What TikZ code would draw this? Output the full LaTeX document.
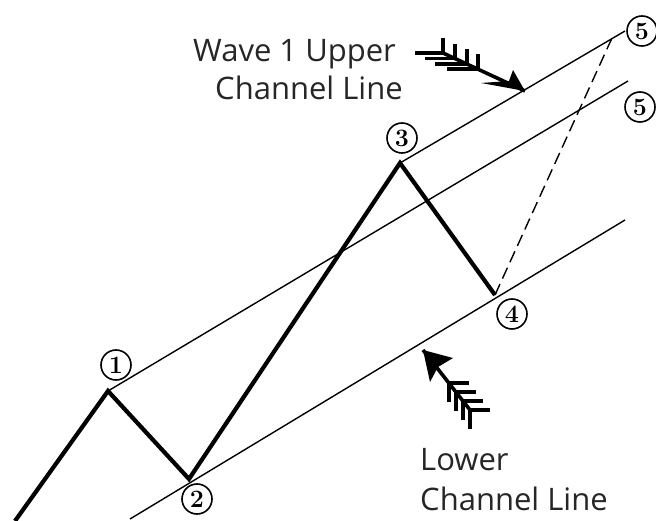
\documentclass[tikz,border=0pt]{standalone}
\usepackage{fontspec}
\newfontfamily\handfont{Open Sans}
\begin{document}
\begin{tikzpicture}[x=1pt,y=-1pt,
  wave/.style={line width=4.2pt, line join=miter, line cap=butt},
  chan/.style={line width=1.4pt},
  lbl/.style={circle, draw, line width=1.6pt, minimum size=30pt, inner sep=0pt, font=\fontsize{25}{25}\selectfont\bfseries},
  txt/.style={font=\handfont\fontsize{31}{31}\selectfont, anchor=base west, inner sep=0pt, text=black!85},
  fletch/.style={line width=3.4pt},
  shaft/.style={line width=3.6pt}
]
\useasboundingbox (0,0) rectangle (656,521);
% wave points
\coordinate (p0) at (15,521);
\coordinate (p1) at (108,391);
\coordinate (p2) at (189,479);
\coordinate (p3) at (400,163);
\coordinate (p4) at (495,295);
% channel line ends
\coordinate (u5) at (625,31);
\coordinate (m5) at (628,81);
\coordinate (lo0) at (130,519);
\coordinate (lo1) at (625,220);
\coordinate (d5) at (612,38);

% channel lines
\draw[chan] (p3) -- (u5);
\draw[chan] (p1) -- (m5);
\draw[chan] (lo0) -- (lo1);
\draw[chan, dash pattern=on 12pt off 6pt] (p4) -- (d5);

% wave
\draw[wave] (p0) -- (p1) -- (p2) -- (p3) -- (p4);

% circled labels
\node[lbl] (n1) at (116,365) {1};
\node[lbl] (n2) at (197,499) {2};
\node[lbl] (n3) at (402,138) {3};
\node[lbl] (n4) at (512,314) {4};
\node[lbl] (n5a) at (642,31) {5};
\node[lbl] (n5b) at (640,107) {5};

% texts
\node[txt] (t1) at (193,62) {Wave 1 Upper};
\node[txt] (t2) at (215,100) {Channel Line};
\node[txt] (t3) at (420,470) {Lower};
\node[txt] (t4) at (420,510) {Channel Line};

% upper fletched arrow
\coordinate (ua0) at (443,53);
\coordinate (ua1) at (455,58.6);
\coordinate (ua2) at (467,64.1);
\coordinate (ua3) at (478,69.2);
\coordinate (uat) at (525,91);
\draw[shaft] (ua0) -- (uat);
\foreach \c/\l in {ua0/28,ua1/30,ua2/32,ua3/31}{
  \draw[fletch] (\c) -- ++(0,-15);
  \draw[fletch] (\c) -- ++(-\l,0);
}
\fill (uat) -- (513,70) -- (509,81) -- (481,83) -- cycle;

% lower fletched arrow
\coordinate (la0) at (449,383);
\coordinate (la1) at (456,392);
\coordinate (la2) at (463,401);
\coordinate (la3) at (470,410);
\coordinate (lat) at (423,350);
\draw[shaft] (lat) -- (la3);
\foreach \c in {la0,la1,la2,la3}{
  \draw[fletch] (\c) -- ++(0,19);
  \draw[fletch] (\c) -- ++(20,0);
}
\fill (lat) -- (453,358) -- (438,367) -- (430,382) -- cycle;
\end{tikzpicture}
\end{document}
